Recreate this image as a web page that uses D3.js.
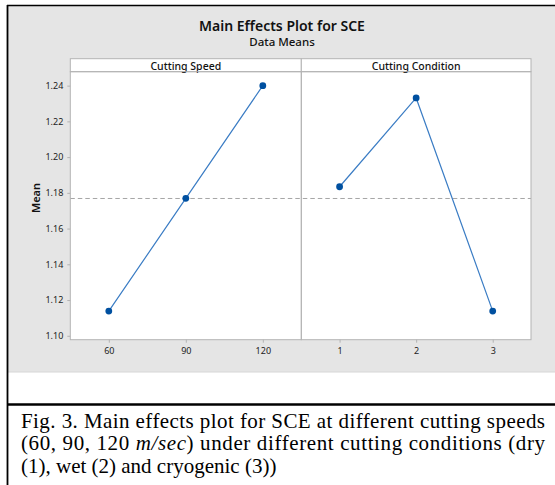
<!DOCTYPE html>
<html>
<head>
<meta charset="utf-8">
<script src="https://cdn.jsdelivr.net/npm/d3@7"></script>
<style>
  html, body { margin: 0; padding: 0; background: #fff; }
  svg { display: block; }
</style>
</head>
<body>
<script>
// values
var speeds = ["60", "90", "120"];
var speedMeans = [1.1138, 1.1769, 1.2400];
var conditions = ["1", "2", "3"];
var conditionMeans = [1.1834, 1.2331, 1.1138];
var yTicks = [1.10, 1.12, 1.14, 1.16, 1.18, 1.20, 1.22, 1.24];
var panelTitles = ["Cutting Speed", "Cutting Condition"];
var captionLines = [
	"Fig. 3. Main effects plot for SCE at different cutting speeds",
	"(60, 90, 120 |m/sec|) under different cutting conditions (dry",
	"(1), wet (2) and cryogenic (3))"
];

var width = 555, height = 485;
var sans = "'Noto Sans', 'Open Sans', sans-serif";
var blue = "#0050a0";

var svg = d3.select("body").append("svg")
	.attr("width", width)
	.attr("height", height);

// squeeze a label to the width it has in the picture
function fitWidth(sel, w) {
	var n = sel.node();
	if (n.getComputedTextLength() > w) {
		sel.attr("textLength", w).attr("lengthAdjust", "spacingAndGlyphs");
	}
	return sel;
}

// figure background
svg.append("rect")
	.attr("x", 8).attr("y", 6)
	.attr("width", width - 8).attr("height", 366)
	.attr("fill", "#e5e5e5");
svg.append("line")
	.attr("x1", 8).attr("x2", width).attr("y1", 372).attr("y2", 372)
	.attr("stroke", "#d6d6d6");

// frame lines of the page
svg.append("line")
	.attr("x1", 7).attr("x2", width).attr("y1", 5.5).attr("y2", 5.5)
	.attr("stroke", "#000").attr("stroke-width", 1.5);
svg.append("line")
	.attr("x1", 7.5).attr("x2", 7.5).attr("y1", 5).attr("y2", height)
	.attr("stroke", "#000").attr("stroke-width", 1.8);
svg.append("line")
	.attr("x1", 7).attr("x2", width).attr("y1", 404.5).attr("y2", 404.5)
	.attr("stroke", "#000").attr("stroke-width", 2.5);

// titles
fitWidth(svg.append("text")
	.attr("x", 282).attr("y", 30.5)
	.attr("text-anchor", "middle")
	.style("font", "600 14px " + sans)
	.attr("fill", "#111")
	.text("Main Effects Plot for SCE"), 170);
fitWidth(svg.append("text")
	.attr("x", 282).attr("y", 46)
	.attr("text-anchor", "middle")
	.style("font", "500 11.5px " + sans)
	.attr("fill", "#111")
	.text("Data Means"), 68);

var plotTop = 71.7, plotBottom = 339.7, stripTop = 58.7;
var panelLeft = 70.3, panelMid = 301.3, panelRight = 531;

var y = d3.scaleLinear()
	.domain([1.0978, 1.2478])
	.range([plotBottom, plotTop]);

var panels = [
	{ title: panelTitles[0], cats: speeds, vals: speedMeans, x0: panelLeft, x1: panelMid, tw: 71 },
	{ title: panelTitles[1], cats: conditions, vals: conditionMeans, x0: panelMid, x1: panelRight, tw: 89 }
];

var grandMean = d3.mean(speedMeans.concat(conditionMeans));

// plot area
svg.append("rect")
	.attr("x", panelLeft).attr("y", plotTop)
	.attr("width", panelRight - panelLeft).attr("height", plotBottom - plotTop)
	.attr("fill", "#fff");

// reference line at the overall mean
svg.append("line")
	.attr("x1", panelLeft).attr("x2", panelRight)
	.attr("y1", y(grandMean)).attr("y2", y(grandMean))
	.attr("stroke", "#a6a6a6")
	.attr("stroke-dasharray", "4.5,3")
	.attr("stroke-width", 1);

panels.forEach(function (p) {
	var x = d3.scalePoint()
		.domain(p.cats)
		.range([p.x0, p.x1])
		.padding(0.5);

	var g = svg.append("g");

	// strip
	g.append("rect")
		.attr("x", p.x0).attr("y", stripTop)
		.attr("width", p.x1 - p.x0).attr("height", plotTop - stripTop)
		.attr("fill", "#fff")
		.attr("stroke", "#b3b3b3");
	fitWidth(g.append("text")
		.attr("x", (p.x0 + p.x1) / 2).attr("y", 69.5)
		.attr("text-anchor", "middle")
		.style("font", "500 10.5px " + sans)
		.attr("fill", "#111")
		.text(p.title), p.tw);

	// panel frame
	g.append("rect")
		.attr("x", p.x0).attr("y", plotTop)
		.attr("width", p.x1 - p.x0).attr("height", plotBottom - plotTop)
		.attr("fill", "none")
		.attr("stroke", "#b3b3b3");

	// x axis
	var xAxis = d3.axisBottom(x).tickSize(3).tickPadding(4.5);
	var ax = g.append("g")
		.attr("transform", "translate(0," + plotBottom + ")")
		.call(xAxis);
	ax.select(".domain").remove();
	ax.selectAll(".tick line").attr("stroke", "#b3b3b3");
	ax.selectAll(".tick text")
		.style("font", "9px " + sans)
		.attr("fill", "#222");

	var pts = p.cats.map(function (c, i) { return [x(c), y(p.vals[i])]; });

	g.append("path")
		.attr("d", d3.line()(pts))
		.attr("fill", "none")
		.attr("stroke", "#3a7cc4")
		.attr("stroke-width", 1.2);

	g.selectAll("circle")
		.data(pts)
		.enter()
		.append("circle")
		.attr("cx", d => d[0])
		.attr("cy", d => d[1])
		.attr("r", 3.4)
		.attr("fill", blue);
});

// y axis
var yAxis = d3.axisLeft(y)
	.tickValues(yTicks)
	.tickFormat(d3.format(".2f"))
	.tickSize(3)
	.tickPadding(4);
var yg = svg.append("g")
	.attr("transform", "translate(" + panelLeft + ",0)")
	.call(yAxis);
yg.select(".domain").remove();
yg.selectAll(".tick line").attr("stroke", "#b3b3b3");
yg.selectAll(".tick text")
	.style("font", "9px " + sans)
	.attr("fill", "#222");

svg.append("text")
	.attr("transform", "translate(39.5,198) rotate(-90)")
	.attr("text-anchor", "middle")
	.style("font", "600 11px " + sans)
	.attr("fill", "#111")
	.text("Mean");

// caption
var capLeft = 21, capRight = 545;
var caption = svg.append("g")
	.attr("font-family", "'Liberation Serif', 'Times New Roman', serif")
	.attr("font-size", 21)
	.attr("fill", "#000");
captionLines.forEach(function (line, i) {
	var t = caption.append("text")
		.attr("x", capLeft)
		.attr("y", 428 + i * 22.3);
	line.split("|").forEach(function (part, j) {
		t.append("tspan")
			.style("font-style", j % 2 ? "italic" : "normal")
			.text(part);
	});
	if (i < captionLines.length - 1) {
		t.attr("textLength", capRight - capLeft)
			.attr("lengthAdjust", "spacing");
	}
});
</script>
</body>
</html>
